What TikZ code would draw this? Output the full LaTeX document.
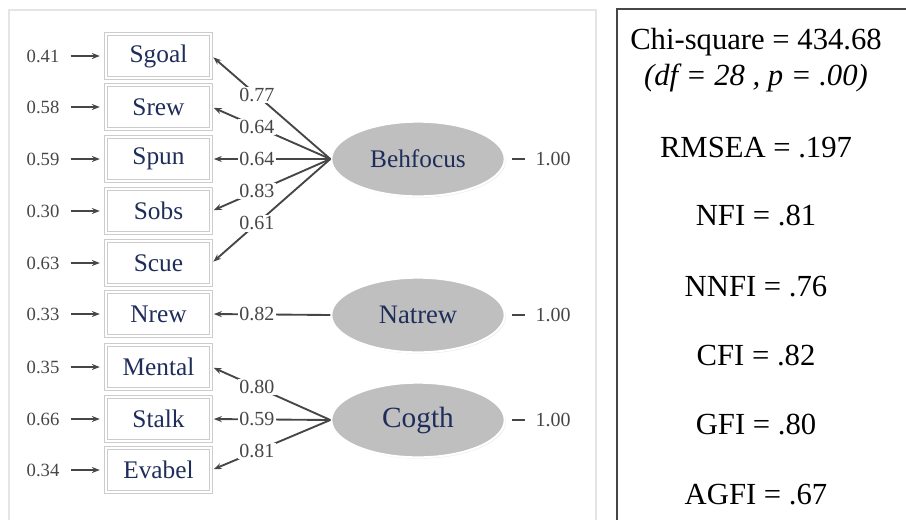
\documentclass[tikz,border=0pt]{standalone}
\usepackage{fontspec}
\setmainfont{Liberation Serif}
\usetikzlibrary{shapes.geometric,shadows,arrows.meta}
\definecolor{navy}{RGB}{31,45,90}
\definecolor{dgray}{RGB}{70,70,70}
\begin{document}
\begin{tikzpicture}[x=0.75pt,y=-0.75pt,
	ind/.style={draw=gray!40,line width=1pt,double=white,double distance=1.2pt,fill=white,minimum width=79pt,minimum height=33pt,inner sep=0pt,
		font=\fontsize{19}{19}\selectfont,text=navy,drop shadow={opacity=.2,shadow xshift=1pt,shadow yshift=-1pt}},
	lat/.style={ellipse,draw=white,line width=1.5pt,fill=gray!50,minimum width=130pt,minimum height=56pt,inner sep=0pt,
		text=navy,drop shadow={opacity=.15,shadow xshift=1pt,shadow yshift=-1pt}},
	err/.style={font=\fontsize{14}{14}\selectfont,text=dgray},
	earr/.style={draw=dgray,line width=1.4pt,-{Stealth[length=6pt,width=4.5pt]},shorten <=5pt,shorten >=4pt},
	lab/.style={fill=white,inner sep=1pt,font=\fontsize{15}{15}\selectfont,text=dgray},
	load/.style={draw=dgray,line width=1.4pt,-{Stealth[length=6pt,width=4.5pt]},shorten >=1.5pt},
	vlab/.style={inner sep=0pt,font=\fontsize{15}{15}\selectfont,text=dgray},
	stat/.style={font=\fontsize{23}{23}\selectfont}]
	\useasboundingbox (0,0) rectangle (906,519);
	% panels
	\draw[gray!20,line width=1pt] (9,525) -- (9,10) -- (596,10) -- (596,525);
	\draw[dgray,line width=1.5pt] (910,9) -- (617,9) -- (617,525);
	% observed
	\node (Sg) at (158.5,56)  [ind] {Sgoal};
	\node (Sr) at (158.5,107) [ind] {Srew};
	\node (Sp) at (158.5,159) [ind] {Spun};
	\node (So) at (158.5,211) [ind] {Sobs};
	\node (Sc) at (158.5,263) [ind] {Scue};
	\node (Nr) at (158.5,314) [ind] {Nrew};
	\node (Me) at (158.5,367) [ind] {Mental};
	\node (St) at (158.5,419) [ind] {Stalk};
	\node (Ev) at (158.5,470) [ind] {Evabel};
	% errors
	\node (e1) at (43,56)  [err] {0.41} edge [earr] (Sg);
	\node (e2) at (43,107) [err] {0.58} edge [earr] (Sr);
	\node (e3) at (43,159) [err] {0.59} edge [earr] (Sp);
	\node (e4) at (43,211) [err] {0.30} edge [earr] (So);
	\node (e5) at (43,263) [err] {0.63} edge [earr] (Sc);
	\node (e6) at (43,314) [err] {0.33} edge [earr] (Nr);
	\node (e7) at (43,367) [err] {0.35} edge [earr] (Me);
	\node (e8) at (43,419) [err] {0.66} edge [earr] (St);
	\node (e9) at (43,470) [err] {0.34} edge [earr] (Ev);
	% latent
	\node (Be) at (418,159) [lat,font=\fontsize{19}{19}\selectfont] {Behfocus};
	\node (Na) at (418,315) [lat,font=\fontsize{20}{20}\selectfont] {Natrew};
	\node (Co) at (418,420) [lat,font=\fontsize{22}{22}\selectfont] {Cogth};
	\draw[load] (Be.west) -- node[lab,pos=.62] {0.77} (Sg.east);
	\draw[load] (Be.west) -- node[lab,pos=.62] {0.64} (Sr.east);
	\draw[load] (Be.west) -- node[lab,pos=.62] {0.64} (Sp.east);
	\draw[load] (Be.west) -- node[lab,pos=.62] {0.83} (So.east);
	\draw[load] (Be.west) -- node[lab,pos=.62] {0.61} (Sc.east);
	\draw[load] (Na.west) -- node[lab,pos=.62] {0.82} (Nr.east);
	\draw[load] (Co.west) -- node[lab,pos=.62] {0.80} (Me.east);
	\draw[load] (Co.west) -- node[lab,pos=.62] {0.59} (St.east);
	\draw[load] (Co.west) -- node[lab,pos=.62] {0.81} (Ev.east);
	% variances
	\node (v1) at (553,159) [vlab] {1.00};
	\node (v2) at (553,315) [vlab] {1.00};
	\node (v3) at (553,420) [vlab] {1.00};
	\coordinate (d1) at (512,159);
	\coordinate (d2) at (512,315);
	\coordinate (d3) at (512,420);
	\draw[dgray,line width=1.4pt,shorten >=7.5pt] (d1) -- (v1);
	\draw[dgray,line width=1.4pt,shorten >=7.5pt] (d2) -- (v2);
	\draw[dgray,line width=1.4pt,shorten >=7.5pt] (d3) -- (v3);
	% fit indices
	\node (chi) at (756,42)  [stat] {Chi-square = 434.68};
	\node (df)  at (756,78)  [stat] {\itshape (df = 28 , p = .00)};
	\node (rm)  at (756,148) [stat] {RMSEA = .197};
	\node (nf)  at (756,216) [stat] {NFI = .81};
	\node (nn)  at (756,287) [stat] {NNFI = .76};
	\node (cf)  at (756,356) [stat] {CFI = .82};
	\node (gf)  at (756,425) [stat] {GFI = .80};
	\node (ag)  at (756,495) [stat] {AGFI = .67};
\end{tikzpicture}
\end{document}
